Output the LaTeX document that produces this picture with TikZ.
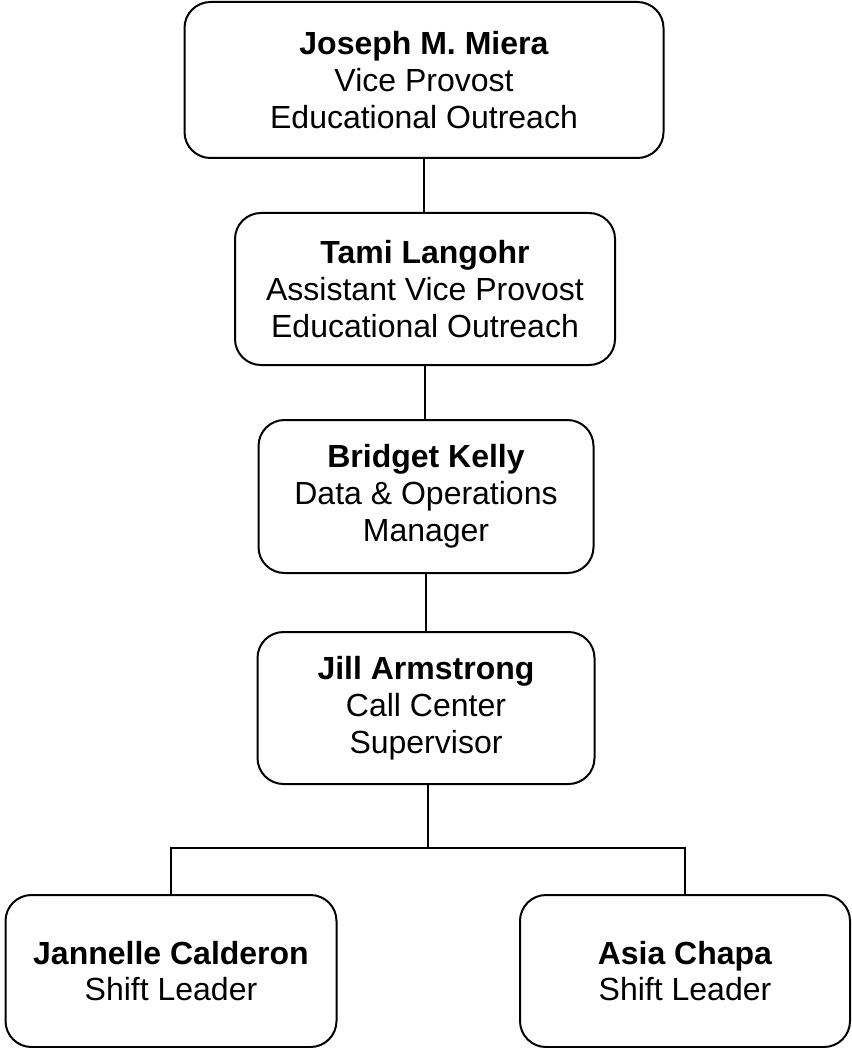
\documentclass[tikz,border=0pt]{standalone}
\usepackage{fontspec}
\setmainfont{Liberation Sans}
\begin{document}
\begin{tikzpicture}[x=0.5pt, y=-0.5pt,
    orgbox/.style = {draw, line width = 1pt, rounded corners = 13pt, align = center,
                     inner sep = 0pt, font = \fontsize{16}{18.4}\selectfont},
    link/.style = {line width = 1pt}]
	\useasboundingbox (0,0) rectangle (851,1048);
	\node[orgbox, minimum width = 239.5pt, minimum height = 78pt] (miera) at (424,80)
		{\textbf{Joseph M. Miera}\\Vice Provost\\Educational Outreach};
	\node[orgbox, minimum width = 190pt, minimum height = 76pt] (langohr) at (425,289)
		{\textbf{Tami Langohr}\\Assistant Vice Provost\\Educational Outreach};
	\node[orgbox, minimum width = 167.5pt, minimum height = 76.5pt] (kelly) at (426,496.5)
		{\textbf{Bridget Kelly}\\Data \& Operations\\Manager};
	\node[orgbox, minimum width = 168.5pt, minimum height = 76pt] (armstrong) at (426,708)
		{\textbf{Jill Armstrong}\\Call Center\\Supervisor};
	\node[orgbox, minimum width = 165.5pt, minimum height = 76pt] (calderon) at (171,971)
		{\textbf{Jannelle Calderon}\\Shift Leader};
	\node[orgbox, minimum width = 165pt, minimum height = 76pt] (chapa) at (685,971)
		{\textbf{Asia Chapa}\\Shift Leader};
	\coordinate (bar) at (428,848);
	\draw[link] (langohr.north -| miera.south) -- (miera.south);
	\draw[link] (langohr.south) -- (kelly.north -| langohr.south);
	\draw[link] (kelly.south) -- (armstrong.north -| kelly.south);
	\draw[link] (armstrong.south -| bar) -- (bar);
	\draw[link] (calderon.north) |- (bar) -| (chapa.north);
\end{tikzpicture}
\end{document}
